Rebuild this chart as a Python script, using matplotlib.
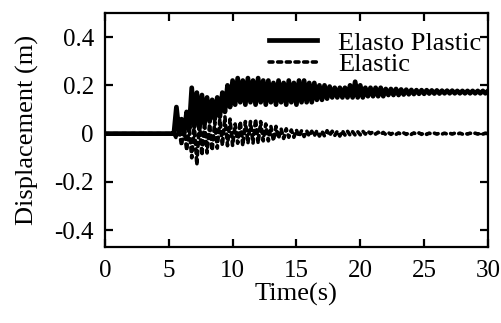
import matplotlib.pyplot as plt
import numpy as np

plt.rcParams['font.family'] = ['Liberation Serif', 'DejaVu Serif']
plt.rcParams['font.size'] = 19

# time: flat start, then samples every 0.2 s (peaks / troughs)
t_flat = [0.0, 5.2]
t_osc = np.round(np.arange(5.4, 30.001, 0.2), 1)
time = np.concatenate([t_flat, t_osc])

# Elasto Plastic displacement (m)
plastic = [0.0, 0.0,
           0.0, 0.11, 0.01, 0.06, 0.0, 0.09, 0.02, 0.19, 0.03, 0.17,        # 5.4 - 7.2
           0.02, 0.16, 0.04, 0.15, 0.05, 0.14, 0.06, 0.15, 0.07, 0.17,      # 7.4 - 9.2
           0.09, 0.20, 0.11, 0.22, 0.12, 0.23, 0.13, 0.22, 0.12, 0.23,      # 9.4 - 11.2
           0.13, 0.22, 0.12, 0.23, 0.13, 0.22, 0.12, 0.22, 0.13, 0.21,      # 11.4 - 13.2
           0.12, 0.22, 0.13, 0.21, 0.12, 0.22, 0.13, 0.21, 0.12, 0.22,      # 13.4 - 15.2
           0.13, 0.22, 0.13, 0.21, 0.13, 0.21, 0.14, 0.20, 0.14, 0.20,      # 15.4 - 17.2
           0.145, 0.195, 0.15, 0.19, 0.15, 0.19, 0.15, 0.19, 0.15, 0.20,    # 17.4 - 19.2
           0.15, 0.215, 0.15, 0.20, 0.15, 0.19, 0.155, 0.19, 0.155, 0.19,   # 19.4 - 21.2
           0.155, 0.19, 0.155, 0.185, 0.16, 0.185, 0.16, 0.185, 0.16, 0.183,  # 21.4 - 23.2
           0.162, 0.182, 0.163, 0.181, 0.164, 0.18, 0.165, 0.18, 0.165, 0.18,  # 23.4 - 25.2
           0.166, 0.179, 0.166, 0.179, 0.166, 0.178, 0.167, 0.178, 0.167, 0.178,  # 25.4 - 27.2
           0.167, 0.177, 0.167, 0.177, 0.167, 0.177, 0.167, 0.177, 0.167, 0.177,  # 27.4 - 29.2
           0.167, 0.177, 0.167, 0.177]                                      # 29.4 - 30.0

# Elastic displacement (m)
elastic = [0.0, 0.0,
           0.0, -0.02, 0.02, -0.05, 0.03, -0.07, 0.03, -0.10, 0.04, -0.13,   # 5.4 - 7.2
           0.05, -0.09, 0.05, -0.08, 0.04, -0.07, 0.05, -0.06, 0.06, -0.05,  # 7.4 - 9.2
           0.07, -0.05, 0.06, -0.05, 0.04, -0.04, 0.05, -0.05, 0.05, -0.04,  # 9.4 - 11.2
           0.05, -0.04, 0.06, -0.04, 0.05, -0.03, 0.04, -0.03, 0.03, -0.03,  # 11.4 - 13.2
           0.03, -0.02, 0.02, -0.02, 0.02, -0.015, 0.015, -0.015, 0.015, -0.012,  # 13.4 - 15.2
           0.012, -0.012, 0.012, -0.01, 0.01, -0.01, 0.012, -0.01, 0.01, -0.01,  # 15.4 - 17.2
           0.012, -0.008, 0.01, -0.008, 0.01, -0.01, 0.012, -0.006, 0.01, -0.006,  # 17.4 - 19.2
           0.008, -0.006, 0.008, -0.005, 0.01, -0.002, 0.01, 0.0, 0.008, -0.002,  # 19.4 - 21.2
           0.006, -0.003, 0.005, -0.004, 0.004, -0.003, 0.004, -0.003, 0.003, -0.003,  # 21.4 - 23.2
           0.003, -0.003, 0.003, -0.003, 0.003, -0.003, 0.003, -0.003, 0.003, -0.003,  # 23.4 - 25.2
           0.002, -0.002, 0.002, -0.002, 0.002, -0.002, 0.002, -0.002, 0.002, -0.002,  # 25.4 - 27.2
           0.002, -0.002, 0.002, -0.002, 0.002, -0.002, 0.002, -0.002, 0.002, -0.002,  # 27.4 - 29.2
           0.002, -0.002, 0.002, 0.0]                                       # 29.4 - 30.0

fig = plt.figure(figsize=(5.02, 3.23), dpi=100)
ax = fig.add_axes([0.209, 0.235, 0.763, 0.725])

ax.plot(time, plastic, color='black', linewidth=3.4, label='Elasto Plastic')
ax.plot(time, elastic, color='black', linewidth=2.6, linestyle=(0, (1.1, 1.3)),
        dash_capstyle='round', label='Elastic')

ax.set_xlim(0, 30)
ax.set_ylim(-0.47, 0.5)
ax.set_xticks([0, 5, 10, 15, 20, 25, 30])
ax.set_yticks([-0.4, -0.2, 0, 0.2, 0.4])
ax.set_yticklabels(['-0.4', '-0.2', '0', '0.2', '0.4'])
ax.tick_params(direction='in', top=True, right=True, length=5.5, width=1.6,
               labelsize=18)
ax.tick_params(axis='x', pad=9)
ax.tick_params(axis='y', pad=8)
for s in ax.spines.values():
    s.set_linewidth(1.6)

ax.set_xlabel('Time(s)', labelpad=1)
ax.set_ylabel('Displacement (m)', labelpad=11)

ax.legend(loc='upper right', bbox_to_anchor=(1.0, 0.95), frameon=False,
          handlelength=1.8, borderaxespad=0.15, labelspacing=-0.08,
          handletextpad=0.8, borderpad=0.1)

fig.savefig('out.png', dpi=100)
